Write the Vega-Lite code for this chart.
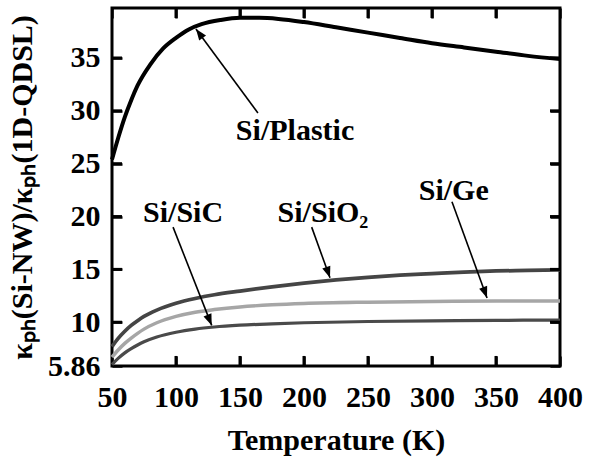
{
  "$schema": "https://vega.github.io/schema/vega-lite/v6.json",
  "width": 448,
  "height": 358,
  "autosize": {"type": "none"},
  "padding": {"left": 112, "top": 8, "right": 30, "bottom": 96},
  "background": "white",
  "config": {
    "view": {"stroke": "black", "strokeWidth": 3},
    "axis": {
      "domain": false,
      "grid": false,
      "ticks": true,
      "tickColor": "black",
      "tickOpacity": 1,
      "tickWidth": 2.5,
      "tickSize": 10,
      "offset": -10,
      "zindex": 1,
      "labelOverlap": false,
      "labelFlush": false,
      "labelFont": "Liberation Serif",
      "labelFontSize": 30,
      "labelFontWeight": "bold",
      "labelColor": "black",
      "titleFont": "Liberation Serif",
      "titleFontSize": 30,
      "titleFontWeight": "bold",
      "titleColor": "black"
    }
  },
  "datasets": {
    "curves": [
      {"series": "Si/Plastic", "T": 50, "v": 25.4},
      {"series": "Si/Plastic", "T": 55, "v": 27.5},
      {"series": "Si/Plastic", "T": 60, "v": 29.4},
      {"series": "Si/Plastic", "T": 65, "v": 31.0},
      {"series": "Si/Plastic", "T": 70, "v": 32.4},
      {"series": "Si/Plastic", "T": 80, "v": 34.4},
      {"series": "Si/Plastic", "T": 90, "v": 35.9},
      {"series": "Si/Plastic", "T": 100, "v": 36.9},
      {"series": "Si/Plastic", "T": 110, "v": 37.7},
      {"series": "Si/Plastic", "T": 120, "v": 38.2},
      {"series": "Si/Plastic", "T": 135, "v": 38.6},
      {"series": "Si/Plastic", "T": 150, "v": 38.8},
      {"series": "Si/Plastic", "T": 165, "v": 38.8},
      {"series": "Si/Plastic", "T": 180, "v": 38.7},
      {"series": "Si/Plastic", "T": 200, "v": 38.4},
      {"series": "Si/Plastic", "T": 225, "v": 37.9},
      {"series": "Si/Plastic", "T": 250, "v": 37.4},
      {"series": "Si/Plastic", "T": 275, "v": 36.9},
      {"series": "Si/Plastic", "T": 300, "v": 36.4},
      {"series": "Si/Plastic", "T": 325, "v": 36.0},
      {"series": "Si/Plastic", "T": 350, "v": 35.6},
      {"series": "Si/Plastic", "T": 375, "v": 35.2},
      {"series": "Si/Plastic", "T": 400, "v": 34.9},
      {"series": "Si/SiO2", "T": 50, "v": 7.7},
      {"series": "Si/SiO2", "T": 55, "v": 8.5},
      {"series": "Si/SiO2", "T": 60, "v": 9.15},
      {"series": "Si/SiO2", "T": 65, "v": 9.7},
      {"series": "Si/SiO2", "T": 70, "v": 10.15},
      {"series": "Si/SiO2", "T": 75, "v": 10.55},
      {"series": "Si/SiO2", "T": 85, "v": 11.15},
      {"series": "Si/SiO2", "T": 100, "v": 11.8},
      {"series": "Si/SiO2", "T": 115, "v": 12.25},
      {"series": "Si/SiO2", "T": 130, "v": 12.6},
      {"series": "Si/SiO2", "T": 150, "v": 12.95},
      {"series": "Si/SiO2", "T": 175, "v": 13.35},
      {"series": "Si/SiO2", "T": 200, "v": 13.7},
      {"series": "Si/SiO2", "T": 225, "v": 14.0},
      {"series": "Si/SiO2", "T": 250, "v": 14.25},
      {"series": "Si/SiO2", "T": 275, "v": 14.45},
      {"series": "Si/SiO2", "T": 300, "v": 14.6},
      {"series": "Si/SiO2", "T": 325, "v": 14.75},
      {"series": "Si/SiO2", "T": 350, "v": 14.85},
      {"series": "Si/SiO2", "T": 375, "v": 14.9},
      {"series": "Si/SiO2", "T": 400, "v": 14.95},
      {"series": "Si/Ge", "T": 50, "v": 6.7},
      {"series": "Si/Ge", "T": 55, "v": 7.4},
      {"series": "Si/Ge", "T": 60, "v": 8.0},
      {"series": "Si/Ge", "T": 65, "v": 8.5},
      {"series": "Si/Ge", "T": 70, "v": 8.95},
      {"series": "Si/Ge", "T": 75, "v": 9.35},
      {"series": "Si/Ge", "T": 85, "v": 9.95},
      {"series": "Si/Ge", "T": 100, "v": 10.55},
      {"series": "Si/Ge", "T": 115, "v": 10.95},
      {"series": "Si/Ge", "T": 130, "v": 11.2},
      {"series": "Si/Ge", "T": 150, "v": 11.45},
      {"series": "Si/Ge", "T": 175, "v": 11.65},
      {"series": "Si/Ge", "T": 200, "v": 11.78},
      {"series": "Si/Ge", "T": 250, "v": 11.9},
      {"series": "Si/Ge", "T": 300, "v": 11.96},
      {"series": "Si/Ge", "T": 350, "v": 12.0},
      {"series": "Si/Ge", "T": 400, "v": 12.0},
      {"series": "Si/SiC", "T": 50, "v": 6.0},
      {"series": "Si/SiC", "T": 55, "v": 6.6},
      {"series": "Si/SiC", "T": 60, "v": 7.1},
      {"series": "Si/SiC", "T": 65, "v": 7.5},
      {"series": "Si/SiC", "T": 70, "v": 7.85},
      {"series": "Si/SiC", "T": 75, "v": 8.15},
      {"series": "Si/SiC", "T": 85, "v": 8.6},
      {"series": "Si/SiC", "T": 100, "v": 9.05},
      {"series": "Si/SiC", "T": 115, "v": 9.35},
      {"series": "Si/SiC", "T": 130, "v": 9.55},
      {"series": "Si/SiC", "T": 150, "v": 9.72},
      {"series": "Si/SiC", "T": 175, "v": 9.85},
      {"series": "Si/SiC", "T": 200, "v": 9.95},
      {"series": "Si/SiC", "T": 250, "v": 10.07},
      {"series": "Si/SiC", "T": 300, "v": 10.13},
      {"series": "Si/SiC", "T": 350, "v": 10.18},
      {"series": "Si/SiC", "T": 400, "v": 10.2}
    ],
    "arrows": [
      {"name": "Plastic", "T1": 164, "v1": 29.8, "T2": 115.6, "v2": 37.75},
      {"name": "SiC", "T1": 97.7, "v1": 19.0, "T2": 127.9, "v2": 9.7},
      {"name": "SiO2", "T1": 206, "v1": 19.0, "T2": 220.3, "v2": 14.2},
      {"name": "Ge", "T1": 315.6, "v1": 21.4, "T2": 343, "v2": 12.3}
    ],
    "labels": [
      {"label": "Si/Plastic", "T": 193, "v": 28.1},
      {"label": "Si/SiC", "T": 105.5, "v": 20.3},
      {"label": "Si/SiO₂", "T": 214.8, "v": 20.3},
      {"label": "Si/Ge", "T": 317, "v": 22.4}
    ],
    "xticks": [
      {"T": 100, "v": 5.86, "v2": 6.81}, {"T": 150, "v": 5.86, "v2": 6.81}, {"T": 200, "v": 5.86, "v2": 6.81},
      {"T": 250, "v": 5.86, "v2": 6.81}, {"T": 300, "v": 5.86, "v2": 6.81}, {"T": 350, "v": 5.86, "v2": 6.81},
      {"T": 100, "v": 39.73, "v2": 38.78}, {"T": 150, "v": 39.73, "v2": 38.78}, {"T": 200, "v": 39.73, "v2": 38.78},
      {"T": 250, "v": 39.73, "v2": 38.78}, {"T": 300, "v": 39.73, "v2": 38.78}, {"T": 350, "v": 39.73, "v2": 38.78}
    ],
    "yticks": [
      {"v": 10, "T": 50, "T2": 57.8}, {"v": 15, "T": 50, "T2": 57.8}, {"v": 20, "T": 50, "T2": 57.8},
      {"v": 25, "T": 50, "T2": 57.8}, {"v": 30, "T": 50, "T2": 57.8}, {"v": 35, "T": 50, "T2": 57.8},
      {"v": 10, "T": 400, "T2": 392.2}, {"v": 15, "T": 400, "T2": 392.2}, {"v": 20, "T": 400, "T2": 392.2},
      {"v": 25, "T": 400, "T2": 392.2}, {"v": 30, "T": 400, "T2": 392.2}, {"v": 35, "T": 400, "T2": 392.2}
    ]
  },
  "layer": [
    {
      "data": {"name": "curves"},
      "mark": {"type": "line", "interpolate": "monotone"},
      "encoding": {
        "x": {
          "field": "T", "type": "quantitative",
          "scale": {"domain": [50, 400], "nice": false},
          "axis": {
            "orient": "bottom",
            "ticks": true,
            "tickSize": 10,
            "values": [50, 100, 150, 200, 250, 300, 350, 400],
            "title": "Temperature (K)",
            "labelPadding": 16,
            "titleY": 84,
            "titleBaseline": "middle"
          }
        },
        "y": {
          "field": "v", "type": "quantitative",
          "scale": {"domain": [5.86, 39.73], "nice": false, "zero": false},
          "axis": {
            "orient": "left",
            "ticks": true,
            "tickSize": 10,
            "values": [5.86, 10, 15, 20, 25, 30, 35],
            "labelExpr": "datum.value === 5.86 ? '5.86' : toString(datum.value)",
            "labelPadding": 12,
            "title": "κₚₕ(Si-NW)/κₚₕ(1D-QDSL)",
            "titleX": -100,
            "titleY": 179,
            "titleAlign": "center",
            "titleBaseline": "middle",
            "titleAngle": -90
          }
        },
        "color": {
          "field": "series", "type": "nominal",
          "scale": {"domain": ["Si/Plastic", "Si/SiO2", "Si/Ge", "Si/SiC"], "range": ["#000000", "#454545", "#a6a6a6", "#4a4a4a"]},
          "legend": null
        },
        "strokeWidth": {
          "field": "series", "type": "nominal",
          "scale": {"domain": ["Si/Plastic", "Si/SiO2", "Si/Ge", "Si/SiC"], "range": [4, 3.2, 3.2, 3.2]},
          "legend": null
        }
      }
    },
    {
      "data": {"name": "arrows"},
      "mark": {"type": "rule", "color": "black", "strokeWidth": 1.6},
      "encoding": {
        "x": {"field": "T1", "type": "quantitative", "axis": {"orient": "top", "ticks": true, "tickSize": 10, "labels": false, "title": null, "values": [50, 100, 150, 200, 250, 300, 350, 400]}},
        "y": {"field": "v1", "type": "quantitative", "axis": {"orient": "right", "ticks": true, "tickSize": 10, "labels": false, "title": null, "values": [5.86, 10, 15, 20, 25, 30, 35]}},
        "x2": {"field": "T2"},
        "y2": {"field": "v2"}
      }
    },
    {
      "data": {"name": "xticks"},
      "mark": {"type": "rule", "color": "black", "strokeWidth": 3},
      "encoding": {
        "x": {"field": "T", "type": "quantitative", "axis": null},
        "y": {"field": "v", "type": "quantitative", "axis": null},
        "y2": {"field": "v2"}
      }
    },
    {
      "data": {"name": "yticks"},
      "mark": {"type": "rule", "color": "black", "strokeWidth": 3},
      "encoding": {
        "y": {"field": "v", "type": "quantitative", "axis": null},
        "x": {"field": "T", "type": "quantitative", "axis": null},
        "x2": {"field": "T2"}
      }
    },
    {
      "data": {"name": "arrows"},
      "transform": [{"filter": {"field": "name", "equal": "Plastic"}}],
      "mark": {"type": "point", "shape": "M0,0L-0.6,1.6L0.6,1.6Z", "filled": true, "color": "black", "opacity": 1, "size": 200, "angle": -36},
      "encoding": {"x": {"field": "T2", "type": "quantitative", "axis": null}, "y": {"field": "v2", "type": "quantitative", "axis": null}}
    },
    {
      "data": {"name": "arrows"},
      "transform": [{"filter": {"field": "name", "equal": "SiC"}}],
      "mark": {"type": "point", "shape": "M0,0L-0.6,1.6L0.6,1.6Z", "filled": true, "color": "black", "opacity": 1, "size": 200, "angle": 158},
      "encoding": {"x": {"field": "T2", "type": "quantitative", "axis": null}, "y": {"field": "v2", "type": "quantitative", "axis": null}}
    },
    {
      "data": {"name": "arrows"},
      "transform": [{"filter": {"field": "name", "equal": "SiO2"}}],
      "mark": {"type": "point", "shape": "M0,0L-0.6,1.6L0.6,1.6Z", "filled": true, "color": "black", "opacity": 1, "size": 200, "angle": 161},
      "encoding": {"x": {"field": "T2", "type": "quantitative", "axis": null}, "y": {"field": "v2", "type": "quantitative", "axis": null}}
    },
    {
      "data": {"name": "arrows"},
      "transform": [{"filter": {"field": "name", "equal": "Ge"}}],
      "mark": {"type": "point", "shape": "M0,0L-0.6,1.6L0.6,1.6Z", "filled": true, "color": "black", "opacity": 1, "size": 200, "angle": 160},
      "encoding": {"x": {"field": "T2", "type": "quantitative", "axis": null}, "y": {"field": "v2", "type": "quantitative", "axis": null}}
    },
    {
      "data": {"name": "labels"},
      "mark": {"type": "text", "font": "Liberation Serif", "fontSize": 30, "fontWeight": "bold", "color": "black", "align": "center", "baseline": "middle"},
      "encoding": {
        "x": {"field": "T", "type": "quantitative", "axis": null},
        "y": {"field": "v", "type": "quantitative", "axis": null},
        "text": {"field": "label"}
      }
    }
  ]
}
